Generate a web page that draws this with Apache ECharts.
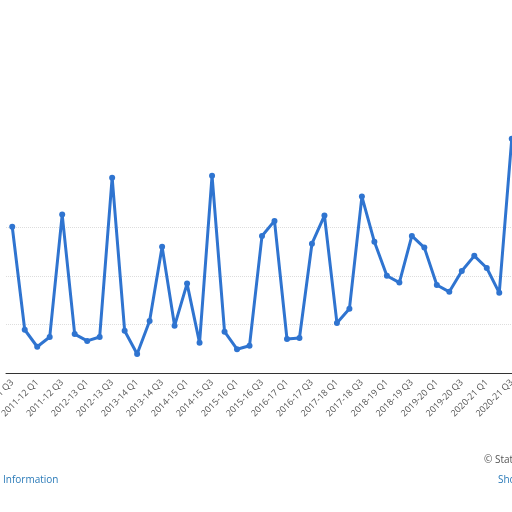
<!DOCTYPE html>
<html><head><meta charset="utf-8">
<script src="https://cdn.jsdelivr.net/npm/echarts@6/dist/echarts.min.js"></script>
<style>html,body{margin:0;padding:0;background:#fff}#c{width:512px;height:512px}</style>
</head><body><div id="c"></div>
<script>
const categories = [];
const years = ['2010-11','2011-12','2012-13','2013-14','2014-15','2015-16','2016-17','2017-18','2018-19','2019-20','2020-21'];
for (let y = 0; y < years.length; y++) for (let q = 1; q <= 4; q++) {
  if (y === 0 && q < 3) continue;
  if (y === years.length - 1 && q > 3) continue;
  categories.push(years[y] + ' Q' + q);
}
const values = [30.1,8.9,5.4,7.4,32.6,8.0,6.6,7.4,40.2,8.7,3.9,10.7,26.0,9.7,18.4,6.2,40.6,8.5,4.9,5.6,28.2,31.3,7.0,7.2,26.6,32.4,10.3,13.2,36.3,27.0,20.0,18.6,28.2,25.8,18.1,16.7,21.0,24.1,21.6,16.5,48.2];
const chart = echarts.init(document.getElementById('c'));
chart.setOption({
  animation:false,
  grid:{left:6,right:-6,top:130,bottom:139,containLabel:false,outerBoundsMode:'none'},
  xAxis:{type:'category',data:categories,boundaryGap:true,
    axisLine:{lineStyle:{color:'#333',width:1}},axisTick:{show:false},
    axisLabel:{interval:1,rotate:45,fontSize:9,color:'#555',fontFamily:'Open Sans',margin:8}},
  yAxis:{type:'value',min:0,max:50,interval:10,axisLabel:{show:false},axisLine:{show:false},
    splitLine:{lineStyle:{color:['#ddd','#ddd','#ddd','#ddd','rgba(0,0,0,0)','rgba(0,0,0,0)'],type:'dotted'}}},
  series:[{type:'line',data:values,symbol:'circle',symbolSize:6,
    lineStyle:{color:'#2f74d0',width:3},itemStyle:{color:'#2f74d0'}}],
  graphic:[
    {type:'text',left:3,top:475,style:{text:'Information',fill:'#2a7ab8',fontSize:10,fontFamily:'Open Sans'}},
    {type:'text',left:484,top:455,style:{text:'© Statista',fill:'#555',fontSize:10,fontFamily:'Open Sans'}},
    {type:'text',left:498,top:475,style:{text:'Show',fill:'#2a7ab8',fontSize:10,fontFamily:'Open Sans'}}
  ]
});
</script></body></html>
